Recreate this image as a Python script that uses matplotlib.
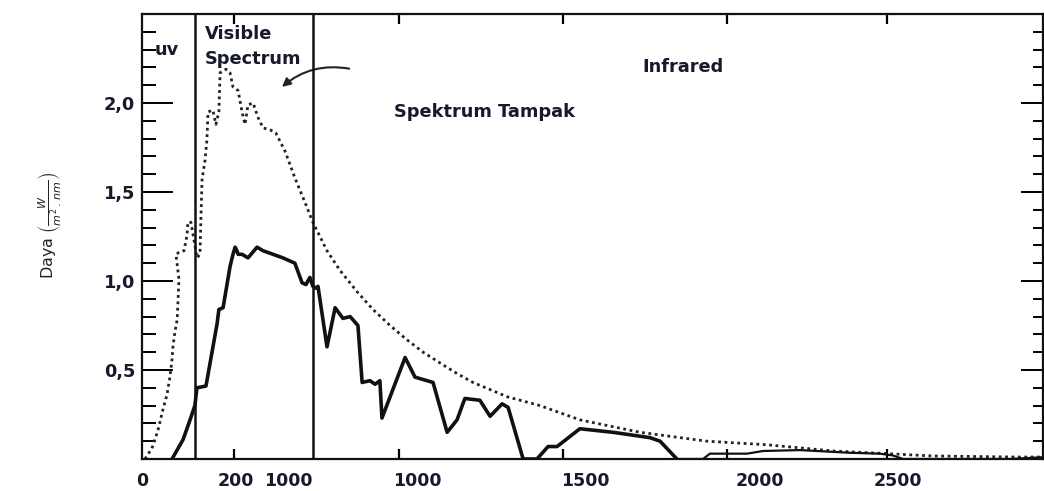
# Solar irradiance spectrum: outside atmosphere (dotted) vs. sea level (solid)
import numpy as np
import matplotlib.pyplot as plt
from matplotlib.patches import FancyArrowPatch

# wavelength (nm) and power (W / m2 nm)
top_wl = [10, 33, 53, 70, 83, 93, 100, 103, 110, 117, 120, 123, 113, 123, 140, 150,
          153, 163, 173, 183, 193, 196, 200, 210, 216, 220, 236, 246, 256, 260, 280,
          293, 303, 320, 333, 343, 353, 370, 386, 403, 426, 446, 476, 509, 543, 569,
          616, 659, 716, 769, 826, 882, 936, 992, 1049, 1102, 1159, 1215, 1325, 1458,
          1658, 1881, 2081, 2301, 2481, 2634, 2913, 3000]
top_pw = [0.0, 0.06, 0.16, 0.28, 0.36, 0.46, 0.56, 0.63, 0.72, 0.78, 0.89, 1.01, 1.15,
          1.16, 1.17, 1.26, 1.33, 1.33, 1.23, 1.13, 1.15, 1.34, 1.57, 1.68, 1.79, 1.95,
          1.96, 1.88, 1.95, 2.17, 2.19, 2.17, 2.09, 2.07, 1.95, 1.88, 1.99, 2.00, 1.92,
          1.86, 1.85, 1.83, 1.73, 1.58, 1.44, 1.33, 1.17, 1.06, 0.94, 0.84, 0.75, 0.67,
          0.60, 0.54, 0.48, 0.43, 0.39, 0.35, 0.30, 0.22, 0.15, 0.10, 0.08, 0.045, 0.03,
          0.017, 0.011, 0.011]

sea_wl = [100, 137, 160, 176, 183, 213, 250, 256, 270, 293, 303, 310, 316, 320, 333, 353,
          383, 403, 469, 509, 533, 546, 559, 569, 579, 586, 616, 643, 669, 693, 719, 733,
          759, 776, 792, 799, 876, 909, 969, 1016, 1049, 1075, 1125, 1159, 1199, 1219,
          1269, 1315, 1352, 1382, 1458, 1568, 1691, 1725, 1781, 1868, 1891, 1948, 2014,
          2068, 2191, 2357, 2457, 2500, 2534, 2890, 3000]
sea_pw = [0.0, 0.11, 0.22, 0.30, 0.40, 0.41, 0.76, 0.84, 0.85, 1.08, 1.15, 1.19, 1.17,
          1.15, 1.15, 1.13, 1.19, 1.17, 1.13, 1.10, 0.99, 0.98, 1.02, 0.97, 0.96, 0.97,
          0.63, 0.85, 0.79, 0.80, 0.75, 0.43, 0.44, 0.42, 0.44, 0.23, 0.57, 0.46, 0.43,
          0.15, 0.22, 0.34, 0.33, 0.24, 0.31, 0.29, 0.0, 0.0, 0.07, 0.07, 0.17, 0.15,
          0.12, 0.10, 0.0, 0.0, 0.03, 0.03, 0.03, 0.045, 0.05, 0.035, 0.03, 0.02, 0.0,
          0.0, 0.01]

visible_edges = [176, 569]
tick_marks = [306, 856, 1402, 1948, 2481]
xlabel_pos = [0, 313, 486, 916, 1475, 2058, 2517]
xlabel_txt = ['0', '200', '1000', '1000', '1500', '2000', '2500']
ylabel_pos = [0.5, 1.0, 1.5, 2.0]
ylabel_txt = ['0,5', '1,0', '1,5', '2,0']

ink = '#17192d'

fig = plt.figure(figsize=(10.44, 4.91), dpi=100)
ax = fig.add_axes([142 / 1044, 1 - 459 / 491, 901 / 1044, 445 / 491])
ax.set_xlim(0, 3000)
ax.set_ylim(0, 2.5)

ax.plot(top_wl, top_pw, color='#222222', lw=2.0, linestyle=(0, (1.0, 1.3)))

sea_wl = np.array(sea_wl)
sea_pw = np.array(sea_pw)
head = sea_wl <= 1781
tail = sea_wl >= 1781
ax.plot(sea_wl[head], sea_pw[head], color='#111111', lw=2.6, solid_joinstyle='round')
ax.plot(sea_wl[tail], sea_pw[tail], color='#111111', lw=1.6)

for xv in visible_edges:
    ax.axvline(xv, color='#111111', lw=1.8)

for s in ax.spines.values():
    s.set_linewidth(1.6)
    s.set_color('#111111')

# x axis: labels without marks, short inward marks separately
ax.set_xticks(xlabel_pos, xlabel_txt)
ax.set_xticks(tick_marks, minor=True)
ax.tick_params(axis='x', which='major', length=0, pad=9)
ax.tick_params(axis='x', which='minor', direction='in', length=7, width=1.6,
               top=True, bottom=True)
for lab in ax.get_xticklabels():
    lab.set_fontsize(12.5)
    lab.set_fontweight('bold')
    lab.set_color(ink)

ax.set_yticks(ylabel_pos, ylabel_txt)
ax.set_yticks([v / 10 for v in range(1, 25) if v % 5 != 0], minor=True)
ax.tick_params(axis='y', which='major', direction='in', length=22, width=1.4, pad=5)
ax.tick_params(axis='y', which='minor', direction='in', length=10, width=1.4)
for lab in ax.get_yticklabels():
    lab.set_fontsize(12.8)
    lab.set_fontweight('bold')
    lab.set_color(ink)

# right side ticks are shorter
ax2 = ax.twinx()
ax2.set_ylim(0, 2.5)
ax2.set_yticks(ylabel_pos, [''] * 4)
ax2.set_yticks([v / 10 for v in range(1, 25) if v % 5 != 0], minor=True)
ax2.tick_params(axis='y', which='major', direction='in', length=16, width=1.4)
ax2.tick_params(axis='y', which='minor', direction='in', length=7, width=1.4)
for s in ax2.spines.values():
    s.set_visible(False)

txt = dict(fontsize=12.8, fontweight='bold', color=ink, va='center')
ax.text(43, 2.30, 'uv', ha='left', **txt)
ax.text(210, 2.39, 'Visible', ha='left', **txt)
ax.text(210, 2.25, 'Spectrum', ha='left', **txt)
ax.text(1801, 2.20, 'Infrared', ha='center', **txt)
ax.text(1139, 1.95, 'Spektrum Tampak', ha='center', **txt)

ax.add_patch(FancyArrowPatch((699, 2.19), (459, 2.08), connectionstyle='arc3,rad=0.25',
                             arrowstyle='-|>,head_length=5,head_width=2.5',
                             color='#222222', lw=1.5))

fig.text(50 / 1044, 1 - 225 / 491, r'Daya $\left(\frac{W}{m^2\,.\,nm}\right)$',
         rotation=90, ha='center', va='center', fontsize=11.5, color='#222222')

fig.savefig('out.png', dpi=100)
